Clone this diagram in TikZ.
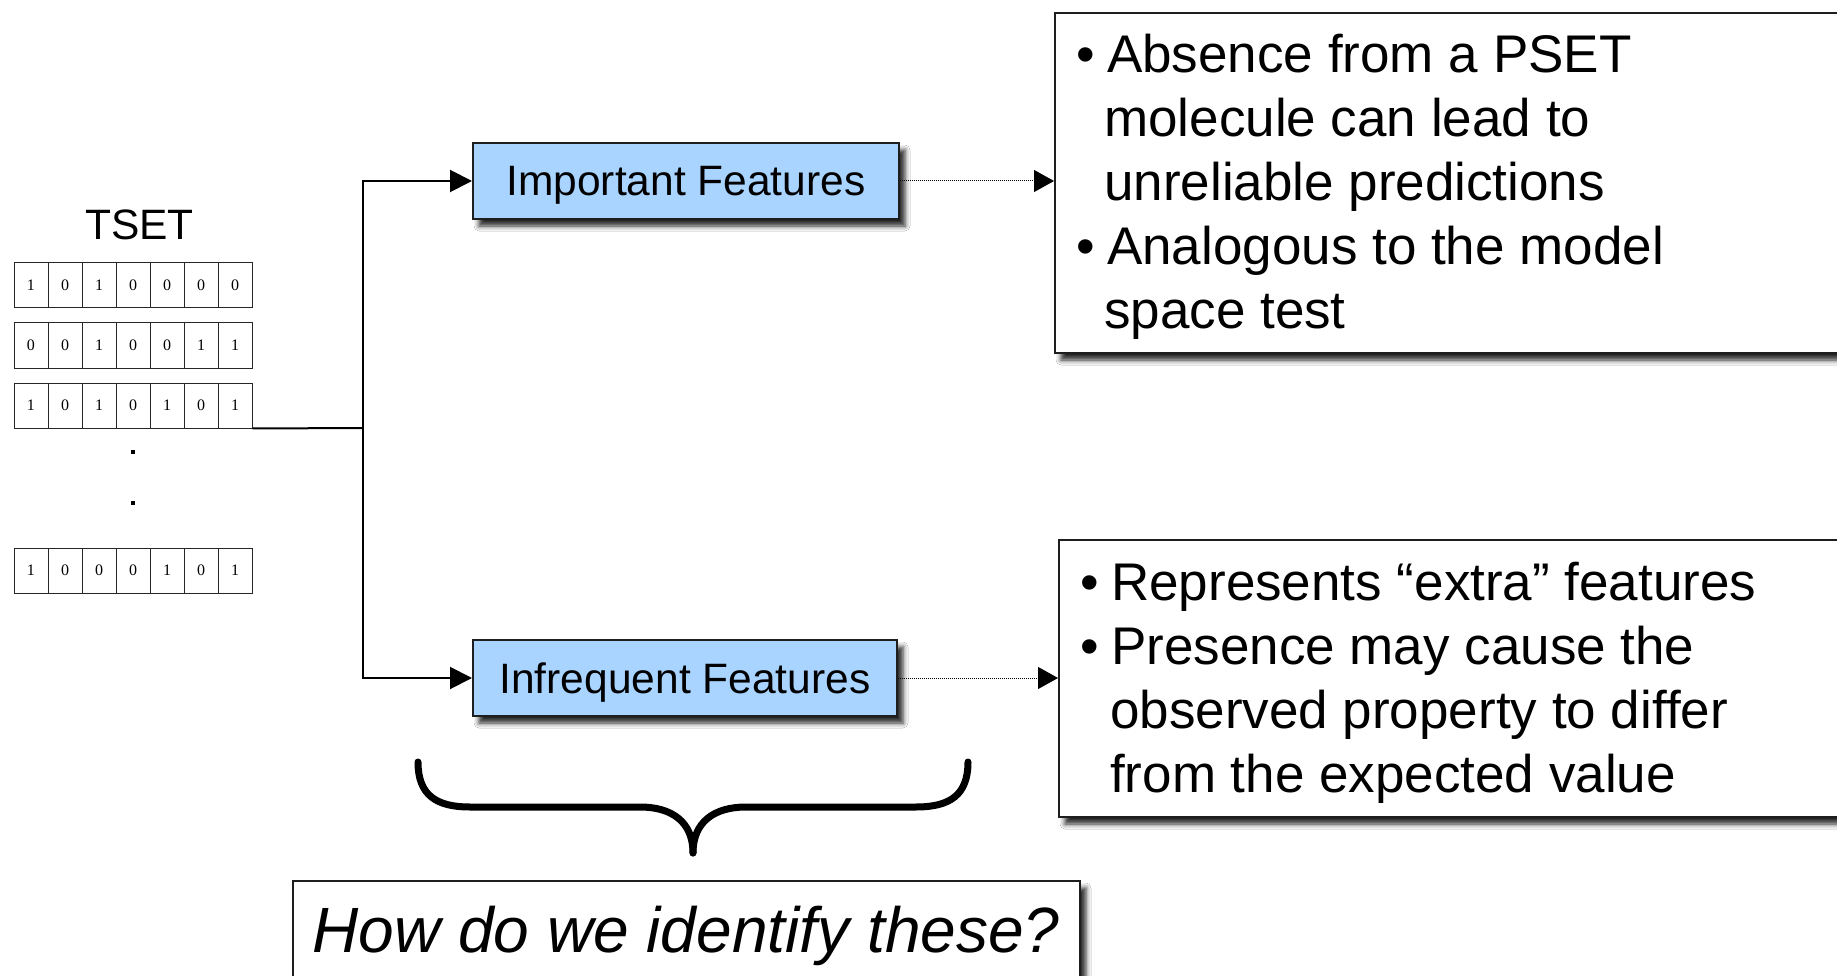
\documentclass[tikz,border=0pt]{standalone}
\usepackage{fontspec}
\setmainfont{Liberation Sans}
\newfontfamily\digitfont{Liberation Serif}
\usetikzlibrary{arrows.meta,shadows.blur,calc}
\definecolor{featblue}{RGB}{168,212,255}
\definecolor{edge}{RGB}{30,30,30}
\newcommand\bul{\makebox[31pt][l]{\textbullet}}
\newcommand\indA{\hspace*{28pt}}
\newcommand\indB{\hspace*{30pt}}
\tikzset{
  softshadow/.style={blur shadow={shadow xshift=6pt, shadow yshift=-7pt, shadow blur radius=5pt, shadow opacity=85}},
  feat/.style={draw=edge, line width=2pt, fill=featblue, minimum width=426pt, minimum height=76pt,
    inner sep=0pt, text depth=0pt, font=\fontsize{42.5}{50}\selectfont, softshadow},
  infobox/.style={draw=edge, line width=2pt, fill=white, inner sep=0pt, anchor=north west, softshadow},
  cell/.style={draw=black!85, line width=1pt, minimum width=34pt, minimum height=45pt, inner sep=0pt,
    font=\digitfont\fontsize{16}{18}\selectfont},
  link/.style={line width=2pt, -{Triangle[length=22pt,width=22pt]}},
  dotlink/.style={line width=1pt, dash pattern=on 1pt off 1pt, -{Triangle[length=20pt,width=22pt]}},
  btext/.style={font=\fontsize{53}{64}\selectfont, inner sep=0pt, anchor=base west},
  bigtext/.style={font=\fontsize{42.5}{50}\selectfont, inner sep=0pt, anchor=base},
  brace/.style={line width=7pt, line cap=round, line join=round}
}
\begin{document}
\begin{tikzpicture}[x=1pt,y=-1pt]
\useasboundingbox (0,0) rectangle (1837,976);
\clip (0,0) rectangle (1837,976);
\fill[white] (0,0) rectangle (1837,976);

% TSET
\node[bigtext] (tset) at (139.5,240) {TSET};
\foreach \v [count=\k] in {1,0,1,0,0,0,0} \node[cell] (a\k) at ({34*\k-3},285.5) {\v};
\foreach \v [count=\k] in {0,0,1,0,0,1,1} \node[cell] (b\k) at ({34*\k-3},345.5) {\v};
\foreach \v [count=\k] in {1,0,1,0,1,0,1} \node[cell] (c\k) at ({34*\k-3},405.5) {\v};
\foreach \v [count=\k] in {1,0,0,0,1,0,1} \node[cell] (d\k) at ({34*\k-3},570.5) {\v};
\fill (131,450) rectangle (135,454);
\fill (131,501) rectangle (135,505);

% feature boxes
\node[feat] (imp) at (686,181) {Important Features};
\node[feat, minimum width=424pt] (inf) at (685,678) {Infrequent Features};

% connectors
\coordinate (split) at (363,428);
\draw[line width=2pt] (c7.south east) -- (split);
\draw[link] (split) |- (imp.west);
\draw[link] (split) |- (inf.west);

% right boxes
\node[infobox, minimum width=1000pt, minimum height=340pt] (pbox) at (1054,12) {};
\node[infobox, minimum width=1000pt, minimum height=277pt] (ebox) at (1058,539) {};
\draw[dotlink] (imp.east) -- (imp.east -| pbox.west);
\draw[dotlink] (inf.east) -- (inf.east -| ebox.west);

\node[btext] (ptext) at (1076,73) {\begin{tabular}[t]{@{}l@{}}
\bul Absence from a PSET\\
\indA molecule can lead to\\
\indA unreliable predictions\\
\bul Analogous to the model\\
\indA space test
\end{tabular}};

\node[btext] (etext) at (1080,600) {\begin{tabular}[t]{@{}l@{}}
\bul Represents “extra” features\\
\bul Presence may cause the\\
\indB observed property to differ\\
\indB from the expected value
\end{tabular}};

% brace
\draw[brace] (418,762) .. controls (418,795) and (436,807) .. (470,807) -- (640,807)
  .. controls (672,807) and (693,822) .. (693,853);
\draw[brace] (968,762) .. controls (968,795) and (950,807) .. (916,807) -- (746,807)
  .. controls (714,807) and (693,822) .. (693,853);

% question box
\node[infobox, minimum width=787pt, minimum height=150pt] (qbox) at (292,880) {};
\node[font=\fontsize{64}{76}\selectfont\itshape, inner sep=0pt, anchor=base] (qtext) at (686,952) {How do we identify these?};
\end{tikzpicture}
\end{document}
